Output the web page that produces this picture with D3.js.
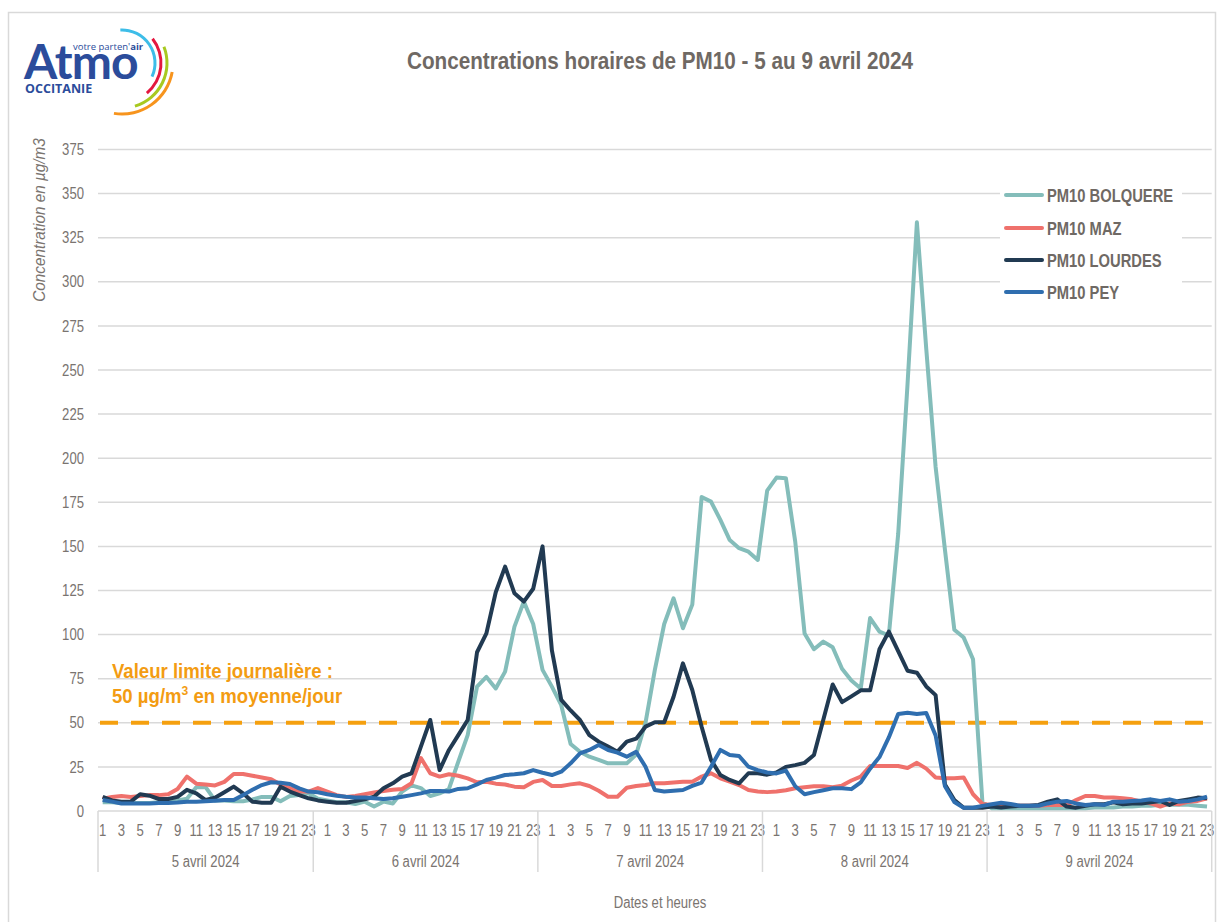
<!DOCTYPE html>
<meta charset="utf-8" />
<style>
    body { margin: 0; background: #fff; }
    svg text { font-family: "Liberation Sans", Arial, sans-serif; }
</style>
<title>PM10 - 5 au 9 avril 2024</title>
<body></body>
<script src="https://d3js.org/d3.v7.min.js"></script>
<script>

    // days on the x axis, 5 avril starts at 1h, the others at 0h
    var days = ["5 avril 2024", "6 avril 2024", "7 avril 2024", "8 avril 2024", "9 avril 2024"];
    var firstHour = [1, 0, 0, 0, 0];

    // hourly values (µg/m3), one line per day
    var bolquere = [
        5, 5, 4.5, 4.5, 4.5, 4.5, 5, 5, 6, 7, 13.5, 13.5, 6, 6, 5.5, 5.5, 6.5, 8, 8, 5.5, 8.5, 9, 10,
        7, 6, 5, 5, 4, 5.3, 2.5, 5.3, 4.3, 11, 14.5, 13, 8.5, 10, 12.5, 28, 43, 70.5, 76, 69.5, 79, 104.5, 118.7, 106,
        80, 70.5, 60, 38, 33.6, 30.8, 29, 27, 27, 27, 32, 50, 80, 106, 120.6, 103.6, 117, 178, 175.4, 165, 153.6, 149, 147, 142.3,
        181.6, 189, 188.7, 152.7, 100.6, 91.7, 96, 92.8, 80.6, 74, 69.5, 109.4, 101.7, 99.5, 157, 242, 333.7, 262, 195, 148, 102.8, 98.3, 86, 5,
        1.5, 1.5, 1.5, 1.5, 1.5, 1.5, 1.5, 1.5, 1.5, 1.5, 1.5, 2, 2, 2, 2.5, 2.5, 3, 3, 3.5, 3.5, 3.5, 3.5, 3, 2.5
    ];
    var maz = [
        7, 8, 8.5, 8, 8.5, 9, 9, 9.5, 12.5, 19.5, 15.5, 15, 14.5, 16.5, 21, 21, 20, 19, 18, 15, 13, 11, 11,
        13, 11, 9, 8, 8.5, 9.5, 10.5, 11.3, 12, 12.5, 15.7, 30, 21.4, 19.5, 20.8, 20, 18.5, 16.3, 16.6, 15.5, 15, 13.8, 13.5, 16.5,
        17.6, 14.2, 14.2, 15.1, 15.7, 14.2, 11.5, 8.1, 8.1, 13.2, 14.2, 14.7, 15.7, 15.7, 16.1, 16.6, 16.6, 19.5, 21.4, 18.5, 16.6, 14.7, 11.9, 11,
        10.7, 11.1, 11.8, 12.9, 13.5, 14, 14, 13.5, 14.4, 17.3, 19.5, 25.5, 25.5, 25.5, 25.5, 24.4, 27.3, 24, 19, 18.5, 18.5, 19, 9.5, 4,
        3.4, 3, 3, 3, 3, 3, 3.4, 3.4, 3.4, 6.2, 8.5, 8.5, 7.7, 7.7, 7.2, 6.6, 5.3, 4.3, 2.5, 4.3, 3.8, 5.3, 5.7, 7.2
    ];
    var lourdes = [
        8, 6, 5.3, 5.3, 9.5, 8.7, 6.8, 6.8, 8, 12, 10, 6.2, 7.5, 10.6, 13.8, 10, 5.3, 4.7, 4.7, 13.8, 11, 9, 7.2,
        6, 5.3, 4.7, 4.7, 5.7, 6.6, 8.1, 12.9, 15.7, 19.5, 21.4, 36.5, 51.6, 23.2, 34.6, 43, 51.6, 90, 100.7, 124, 138.5, 123.4, 118.7, 126,
        150, 91, 63, 57, 51.6, 43, 39.3, 36.5, 33.6, 39.3, 41, 47.8, 50.3, 50.3, 64.8, 83.7, 68.6, 47.8, 29, 20.4, 17.6, 15.7, 21.4, 21.4,
        20.6, 21.8, 25, 26, 27.3, 31.7, 51.7, 71.7, 61.7, 65, 68.4, 68.4, 91.7, 101.7, 90.6, 79.5, 78.4, 70.6, 65.7, 15, 6.2, 1.8, 1.8, 1.8,
        2.5, 2, 2.5, 3, 3, 3.4, 5.3, 6.6, 2.5, 1.9, 3, 3.8, 3.8, 4.9, 3.8, 4.3, 4.3, 4.9, 5.7, 3.4, 5.7, 6.6, 7.6, 7.2
    ];
    var pey = [
        6.2, 5.3, 4.3, 4.3, 4.3, 4.3, 4.5, 4.5, 4.8, 5.3, 5.3, 5.5, 5.8, 6.2, 6.2, 9, 12, 14.7, 16.3, 16, 15.3, 12.8, 11,
        10.6, 9.5, 8.7, 8.1, 7.7, 7.7, 7.2, 6.8, 7.2, 8.1, 9, 10, 11.3, 11.3, 11, 12.5, 12.9, 15.1, 17.6, 18.9, 20.4, 20.8, 21.4, 23.2,
        21.7, 20.4, 22.3, 27, 32.7, 34.6, 37.4, 34.6, 33.1, 30.8, 33.6, 25.1, 11.9, 11, 11.5, 11.9, 14.2, 16.1, 25.1, 34.6, 31.7, 31.2, 25.1, 23.2,
        21.8, 21.3, 22.9, 14, 9.5, 10.7, 11.8, 12.9, 12.9, 12.4, 16.2, 24, 30.6, 41.7, 55, 55.7, 55, 55.5, 42.8, 14, 5.1, 1.8, 1.8, 2.9,
        3.8, 4.7, 4, 3, 3, 3, 4.3, 5.3, 5.7, 4.3, 3.4, 3.8, 3.4, 5.3, 5.3, 5.7, 6, 6.6, 5.7, 6.6, 5.3, 5.7, 6.6, 8.1
    ];
    var seriesNames = ["PM10 BOLQUERE", "PM10 MAZ", "PM10 LOURDES", "PM10 PEY"];
    var seriesColors = ["#84bdba", "#ef716c", "#213a52", "#2f6eaf"];
    var yTicks = [0, 25, 50, 75, 100, 125, 150, 175, 200, 225, 250, 275, 300, 325, 350, 375];
    var limitValue = 50;

    var series = [bolquere, maz, lourdes, pey].map(function (v, i) {
        return {name: seriesNames[i], values: v, color: seriesColors[i]};
    });

    // categories (day, hour)
    var cats = [];
    days.forEach(function (d, i) {
        for (var h = firstHour[i]; h < 24; h++) cats.push({day: i, hour: h, key: i + "-" + h});
    });

    var svgWidth = 1224, svgHeight = 922;
    var plotLeft = 98, plotRight = 1211.7, plotTop = 149.5, plotBottom = 811;
    var narrowK = 0.82; // Arial Narrow look
    var textGray = "#7a7470", gridGray = "#d9d9d9";

    var svg = d3.select("body").append("svg")
        .attr("width", svgWidth)
        .attr("height", svgHeight);

    // chart frame
    svg.append("rect")
        .attr("x", 8.5).attr("y", 12.5)
        .attr("width", 1207).attr("height", 930)
        .attr("fill", "#fff").attr("stroke", gridGray).attr("stroke-width", 1.5);

    var x = d3.scaleBand()
        .domain(cats.map(function (c) { return c.key; }))
        .range([plotLeft, plotRight]);
    var xc = function (key) { return x(key) + x.bandwidth() / 2; };

    var y = d3.scaleLinear()
        .domain([0, 375])
        .range([plotBottom, plotTop]);

    // gridlines
    svg.append("g").selectAll("line")
        .data(yTicks)
        .enter().append("line")
        .attr("x1", plotLeft).attr("x2", plotRight)
        .attr("y1", function (d) { return y(d); })
        .attr("y2", function (d) { return y(d); })
        .attr("stroke", gridGray).attr("stroke-width", 1.5);

    // y axis labels
    var gy = svg.append("g")
        .attr("transform", "translate(" + plotLeft + ",0)")
        .call(d3.axisLeft(y).tickValues(yTicks).tickSize(0));
    gy.select(".domain").remove();
    gy.selectAll("text")
        .attr("x", -14 / narrowK)
        .attr("transform", "scale(" + narrowK + ",1)")
        .style("font-family", '"Liberation Sans", Arial, sans-serif')
        .style("font-size", "16px").attr("fill", textGray);

    // x axis: hours
    var gx = svg.append("g")
        .attr("transform", "translate(0," + plotBottom + ")")
        .call(d3.axisBottom(x)
            .tickValues(cats.filter(function (c) { return c.hour % 2 === 1; }).map(function (c) { return c.key; }))
            .tickFormat(function (k) { return k.split("-")[1]; })
            .tickSize(0).tickPadding(14));
    gx.select(".domain").remove();
    gx.selectAll("text")
        .attr("transform", "scale(" + narrowK + ",1)")
        .style("font-family", '"Liberation Sans", Arial, sans-serif')
        .style("font-size", "16px").attr("fill", textGray);

    // day separators and labels
    var dayStarts = days.map(function (d, i) { return x(i + "-" + firstHour[i]); });
    var dayEdges = dayStarts.concat([plotRight]);
    svg.append("g").selectAll("line")
        .data(dayEdges)
        .enter().append("line")
        .attr("x1", function (d) { return d; }).attr("x2", function (d) { return d; })
        .attr("y1", plotBottom).attr("y2", 872)
        .attr("stroke", gridGray).attr("stroke-width", 1.5);

    svg.append("g").selectAll("text")
        .data(days)
        .enter().append("text")
        .attr("transform", function (d, i) {
            return "translate(" + (dayEdges[i] + dayEdges[i + 1]) / 2 + ",867) scale(" + narrowK + ",1)";
        })
        .attr("text-anchor", "middle")
        .attr("fill", textGray)
        .style("font-size", "16px")
        .text(function (d) { return d; });

    // axis titles
    svg.append("text")
        .attr("transform", "translate(660,908) scale(" + narrowK + ",1)")
        .attr("text-anchor", "middle")
        .attr("fill", textGray)
        .style("font-size", "16px")
        .text("Dates et heures");

    svg.append("text")
        .attr("transform", "translate(45,220) rotate(-90) scale(0.9,1)")
        .attr("text-anchor", "middle")
        .attr("fill", textGray)
        .style("font-size", "17px")
        .style("font-style", "italic")
        .text("Concentration en µg/m3");

    // title
    svg.append("text")
        .attr("transform", "translate(660,69) scale(0.9,1)")
        .attr("text-anchor", "middle")
        .attr("fill", "#6f6964")
        .style("font-size", "23px")
        .style("font-weight", "bold")
        .text("Concentrations horaires de PM10 - 5 au 9 avril 2024");

    // daily limit
    svg.append("line")
        .attr("x1", plotLeft + 2).attr("x2", plotRight)
        .attr("y1", y(limitValue)).attr("y2", y(limitValue))
        .attr("stroke", "#f5a00f").attr("stroke-width", 4)
        .attr("stroke-dasharray", "18 13");

    var note = svg.append("text")
        .attr("transform", "translate(112,0) scale(0.93,1)")
        .attr("fill", "#f39c12")
        .style("font-size", "20px")
        .style("font-weight", "bold");
    note.append("tspan").attr("x", 0).attr("y", 678).text("Valeur limite journalière :");
    var l2 = note.append("tspan").attr("x", 0).attr("y", 703);
    l2.append("tspan").text("50 µg/m");
    l2.append("tspan").attr("dy", -8).style("font-size", "13px").text("3");
    l2.append("tspan").attr("dy", 8).text(" en moyenne/jour");

    // lines
    var line = d3.line()
        .x(function (d, i) { return xc(cats[i].key); })
        .y(function (d) { return y(d); });

    svg.append("g").selectAll("path")
        .data(series)
        .enter().append("path")
        .attr("d", function (s) { return line(s.values); })
        .attr("fill", "none")
        .attr("stroke", function (s) { return s.color; })
        .attr("stroke-width", 4)
        .attr("stroke-linejoin", "round");

    // legend
    var legend = svg.append("g");
    legend.append("rect")
        .attr("x", 1000).attr("y", 178)
        .attr("width", 182).attr("height", 128)
        .attr("fill", "#fff");
    var rows = legend.selectAll("g.row")
        .data(series)
        .enter().append("g")
        .attr("class", "row")
        .attr("transform", function (d, i) { return "translate(0," + [195, 228, 260, 292][i] + ")"; });
    rows.append("line")
        .attr("x1", 1006).attr("x2", 1042)
        .attr("stroke", function (d) { return d.color; })
        .attr("stroke-width", 4)
        .attr("stroke-linecap", "round");
    rows.append("text")
        .attr("transform", "translate(1047,6.5) scale(" + narrowK + ",1)")
        .attr("fill", "#6f6964")
        .style("font-size", "18px")
        .style("font-weight", "bold")
        .text(function (d) { return d.name; });

    // logo
    var logo = svg.append("g");
    logo.append("text")
        .attr("x", 24).attr("y", 79)
        .attr("fill", "#2b4c9b")
        .style("font-family", "Lato, 'Open Sans', sans-serif")
        .style("font-size", "48px")
        .style("font-weight", "bold")
        .style("letter-spacing", "-1px")
        .text("Atmo");
    var tag = logo.append("text")
        .attr("x", 73).attr("y", 50)
        .attr("fill", "#2b4c9b")
        .style("font-family", "'Open Sans', sans-serif")
        .style("font-size", "9.5px");
    tag.append("tspan").text("votre parten'");
    tag.append("tspan").style("font-weight", "bold").text("air");
    logo.append("text")
        .attr("x", 25).attr("y", 93)
        .attr("fill", "#2b4c9b")
        .style("font-family", "'Open Sans', sans-serif")
        .style("font-size", "12.5px")
        .style("font-weight", "bold")
        .text("OCCITANIE");

    var arcs = [
        {r: 33, a0: -0.05, a1: 2.0, c: "#3dbde8"},
        {r: 39, a0: 0.9, a1: 2.45, c: "#e4173f"},
        {r: 45, a0: 1.2, a1: 2.85, c: "#a8c920"},
        {r: 51, a0: 1.75, a1: 3.3, c: "#f7941d"}
    ];
    var arcGen = d3.arc();
    logo.append("g")
        .attr("transform", "translate(122,63)")
        .selectAll("path")
        .data(arcs)
        .enter().append("path")
        .attr("d", function (d) {
            return arcGen({innerRadius: d.r - 1.5, outerRadius: d.r + 1.5, startAngle: d.a0, endAngle: d.a1});
        })
        .attr("fill", function (d) { return d.c; });

</script>
